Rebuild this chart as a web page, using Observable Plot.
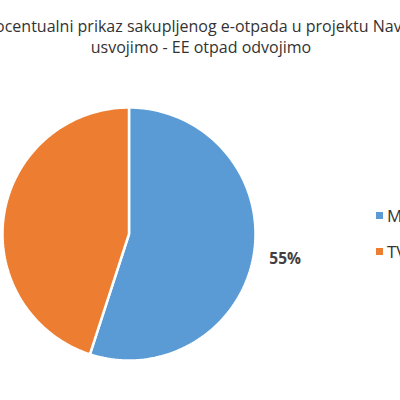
<!DOCTYPE html>
<html>
<head>
<meta charset="utf-8">
<script src="https://cdn.jsdelivr.net/npm/d3@7"></script>
<script src="https://cdn.jsdelivr.net/npm/@observablehq/plot@0.6"></script>
<style>
  html, body { margin: 0; padding: 0; background: #fff; }
  body { width: 400px; height: 400px; overflow: hidden; position: relative; font-family: "Open Sans", "Noto Sans", sans-serif; }
  #chart { position: absolute; left: 0; top: 0; }
  .title { position: absolute; left: 201px; transform: translateX(-50%); white-space: nowrap; font-size: 16px; color: #333; }
  .legend-item { position: absolute; left: 376px; white-space: nowrap; font-size: 17px; color: #333; display: flex; align-items: center; }
  .legend-item .sw { width: 7px; height: 7px; margin-right: 4px; }
</style>
</head>
<body>
<div id="chart"></div>
<div class="title" id="t1" style="top:15px"></div>
<div class="title" id="t2" style="top:36px"></div>
<div id="legend"></div>
<script>
const titleLines = ["Procentualni prikaz sakupljenog e-otpada u projektu Navike", "usvojimo - EE otpad odvojimo"];
const categories = ["Monitori", "TV"];
const values = [55, 45];
const labels = ["55%", "45%"];
const colors = ["#5B9BD5", "#ED7D31"];

document.getElementById("t1").textContent = titleLines[0];
document.getElementById("t2").textContent = titleLines[1];

const arcs = d3.pie().sort(null).value(d => d)(values);
const slicePts = [];
const labelPts = [];
arcs.forEach((a, i) => {
  const key = categories[i];
  slicePts.push({key, x: 0, y: 0});
  const n = 120;
  for (let k = 0; k <= n; k++) {
    const ang = a.startAngle + (a.endAngle - a.startAngle) * k / n;
    slicePts.push({key, x: Math.sin(ang), y: Math.cos(ang)});
  }
  slicePts.push({key, x: 0, y: 0});
  const mid = (a.startAngle + a.endAngle) / 2;
  labelPts.push({key, label: labels[i], x: 1.25 * Math.sin(mid), y: 1.25 * Math.cos(mid)});
});

const plot = Plot.plot({
  width: 400,
  height: 400,
  marginLeft: 2,
  marginRight: 145,
  marginTop: 107,
  marginBottom: 40,
  style: {fontFamily: "'Open Sans', sans-serif", background: "transparent", overflow: "visible"},
  x: {domain: [-1, 1], axis: null},
  y: {domain: [-1, 1], axis: null},
  color: {domain: categories, range: colors},
  marks: [
    Plot.line(slicePts, {x: "x", y: "y", z: "key", fill: "key", stroke: "white", strokeWidth: 2.5, strokeLinejoin: "round"}),
    Plot.text(labelPts, {x: "x", y: "y", text: "label", fill: "#404040", fontSize: 15.5, fontWeight: "bold"})
  ]
});
document.getElementById("chart").appendChild(plot);

const legend = document.getElementById("legend");
categories.forEach((c, i) => {
  const item = document.createElement("div");
  item.className = "legend-item";
  item.style.top = (204 + i * 36) + "px";
  const sw = document.createElement("span");
  sw.className = "sw";
  sw.style.background = colors[i];
  const tx = document.createElement("span");
  tx.textContent = c;
  item.appendChild(sw);
  item.appendChild(tx);
  legend.appendChild(item);
});
</script>
</body>
</html>
